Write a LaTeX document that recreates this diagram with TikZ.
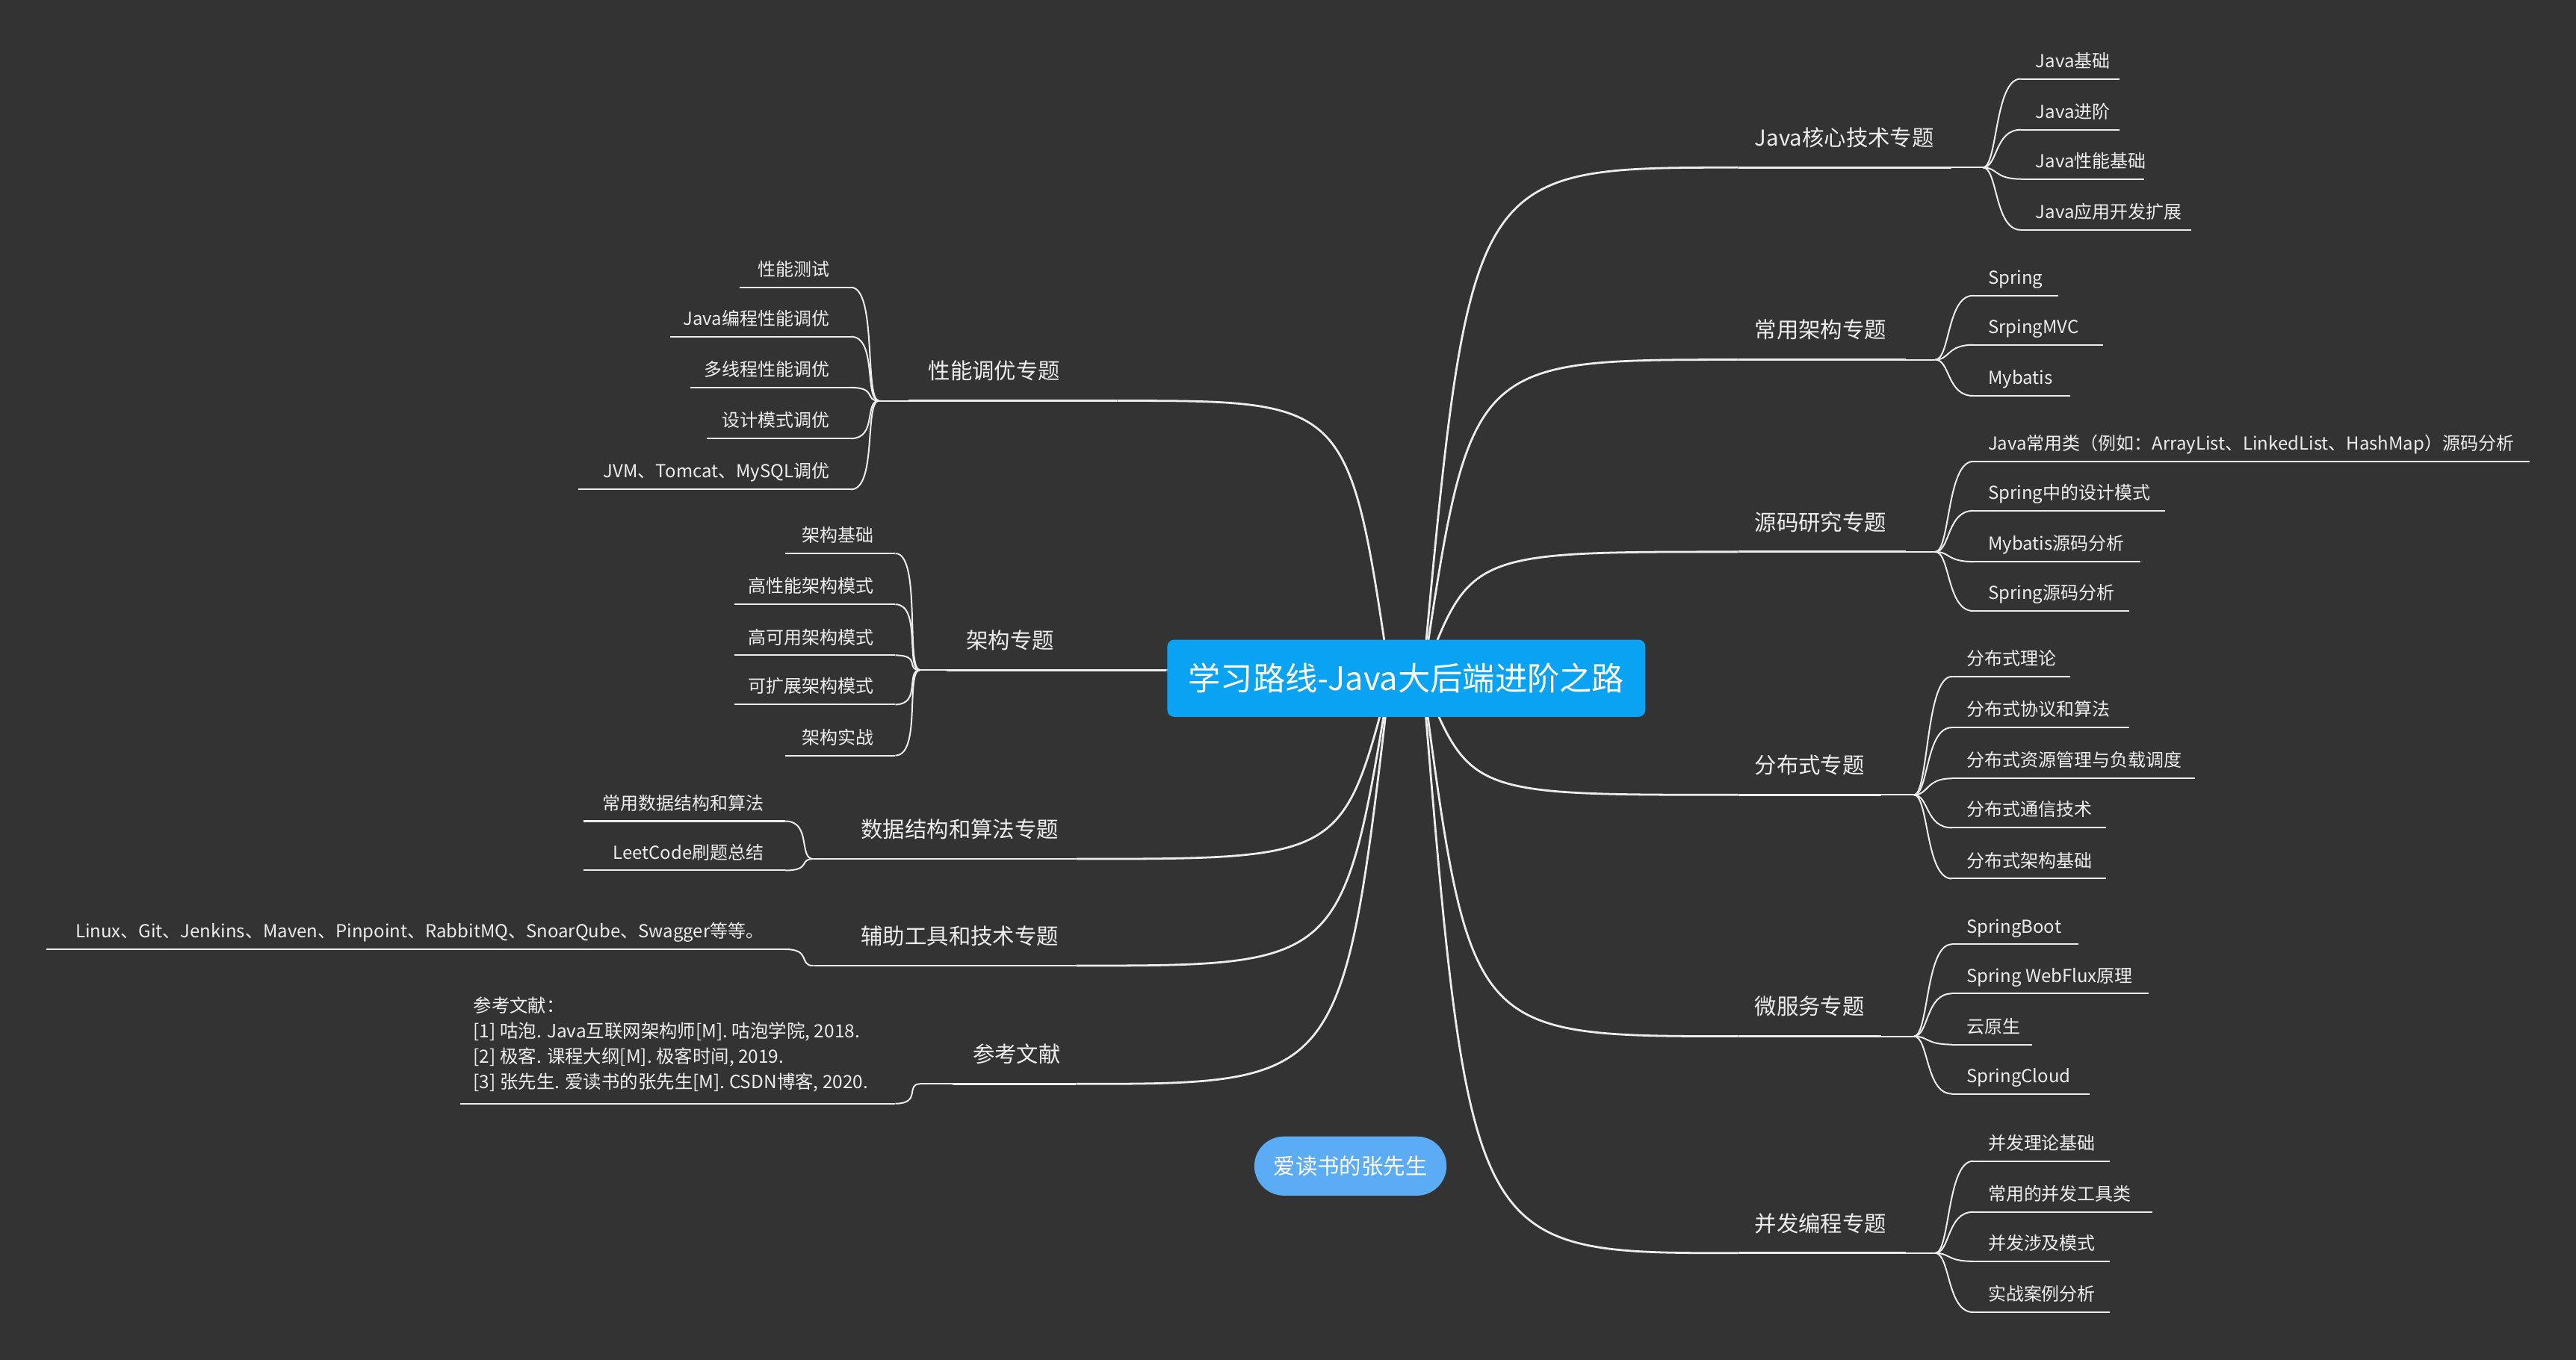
\documentclass[tikz,border=0pt]{standalone}
\usepackage{fontspec}
\setmainfont{Noto Sans CJK SC}
\usetikzlibrary{calc}
\definecolor{bg}{HTML}{333333}
\definecolor{ln}{HTML}{EDEDED}
\definecolor{cblue}{HTML}{0AA2F2}
\definecolor{pblue}{HTML}{5CABF5}
\tikzset{
 mainlab/.style={text=ln,inner sep=0pt,font=\fontsize{19}{22}\selectfont},
 childlab/.style={text=ln,inner sep=0pt,font=\fontsize{15.5}{19}\selectfont},
 br/.style={draw=ln,line width=1.8pt},
 ul/.style={draw=ln,line width=1.3pt},
}
\newcommand\rmain[5]{%
 \coordinate (#1s) at (1058,#3); \coordinate (#1e) at (#4,#3); \coordinate (#1j) at (#5,#3);
 \node[mainlab,anchor=base west] (#1) at (1068,#3-13) {#2};
 \draw[br] (#1s)--(#1e); \draw[ul] (#1e)--(#1j);
 \draw[br] (cr) .. controls ($(cr|-#1s)!0.15!(#1s)$) .. (#1s);}
\newcommand\rchild[6]{%
 \coordinate (#2s) at (#4,#3); \coordinate (#2e) at (#5,#3);
 \node[childlab,anchor=base west] (#2) at (#4+9,#3-7) {#6};
 \draw[ul] (#2s)--(#2e);
 \draw[ul] (#1j) .. controls +(9,0) and +(-16,0) .. (#2s);}
\newcommand\lmain[6]{% id text y xstart xend junction
 \coordinate (#1s) at (#4,#3); \coordinate (#1e) at (#5,#3); \coordinate (#1j) at (#6,#3);
 \node[mainlab,anchor=base west] (#1) at (#4+12,#3-13) {#2};
 \draw[br] (#1s)--(#1e); \draw[ul] (#1s)--(#1j);
 \draw[br] (cl) .. controls ($(cl|-#1e)!0.15!(#1e)$) .. (#1e);}
\newcommand\lchild[6]{%
 \coordinate (#2s) at (#4,#3); \coordinate (#2e) at (#5,#3);
 \node[childlab,anchor=base east] (#2) at (#5-13,#3-7) {#6};
 \draw[ul] (#2s)--(#2e);
 \draw[ul] (#1j) .. controls +(-9,0) and +(16,0) .. (#2e);}
\begin{document}
\begin{tikzpicture}[x=0.5mm,y=-0.5mm]
\fill[bg] (0,0) rectangle (1568,828);
\useasboundingbox (0,0) rectangle (1568,828);
\coordinate (cr) at (866,413);
\coordinate (cl) at (846,413);
% right
\rmain{a}{Java核心技术专题}{102}{1188}{1207}
\rchild{a}{a1}{48}{1230}{1290}{Java基础}
\rchild{a}{a2}{79}{1230}{1290}{Java进阶}
\rchild{a}{a3}{109}{1230}{1305}{Java性能基础}
\rchild{a}{a4}{140}{1230}{1334}{Java应用开发扩展}
\rmain{b}{常用架构专题}{219}{1160}{1178}
\rchild{b}{b1}{180}{1201}{1253}{Spring}
\rchild{b}{b2}{210}{1201}{1280}{SrpingMVC}
\rchild{b}{b3}{241}{1201}{1260}{Mybatis}
\rmain{c}{源码研究专题}{336}{1160}{1178}
\rchild{c}{c1}{281}{1201}{1540}{Java常用类（例如：ArrayList、LinkedList、HashMap）源码分析}
\rchild{c}{c2}{311}{1201}{1318}{Spring中的设计模式}
\rchild{c}{c3}{342}{1201}{1303}{Mybatis源码分析}
\rchild{c}{c4}{372}{1201}{1296}{Spring源码分析}
\rmain{d}{分布式专题}{484}{1145}{1165}
\rchild{d}{d1}{412}{1188}{1260}{分布式理论}
\rchild{d}{d2}{443}{1188}{1296}{分布式协议和算法}
\rchild{d}{d3}{474}{1188}{1336}{分布式资源管理与负载调度}
\rchild{d}{d4}{504}{1188}{1282}{分布式通信技术}
\rchild{d}{d5}{535}{1188}{1282}{分布式架构基础}
\rmain{e}{微服务专题}{631}{1145}{1165}
\rchild{e}{e1}{575}{1188}{1265}{SpringBoot}
\rchild{e}{e2}{605}{1188}{1308}{Spring WebFlux原理}
\rchild{e}{e3}{636}{1188}{1237}{云原生}
\rchild{e}{e4}{666}{1188}{1272}{SpringCloud}
\rmain{f}{并发编程专题}{763}{1160}{1178}
\rchild{f}{f1}{707}{1201}{1284}{并发理论基础}
\rchild{f}{f2}{738}{1201}{1310}{常用的并发工具类}
\rchild{f}{f3}{768}{1201}{1284}{并发涉及模式}
\rchild{f}{f4}{799}{1201}{1284}{实战案例分析}
% left
\lmain{g}{性能调优专题}{244}{553}{680}{535}
\lchild{g}{g1}{175}{450}{518}{性能测试}
\lchild{g}{g2}{205}{408}{518}{Java编程性能调优}
\lchild{g}{g3}{236}{420}{518}{多线程性能调优}
\lchild{g}{g4}{267}{430}{518}{设计模式调优}
\lchild{g}{g5}{298}{352}{518}{JVM、Tomcat、MySQL调优}
\lmain{h}{架构专题}{408}{576}{710}{560}
\lchild{h}{h1}{337}{478}{545}{架构基础}
\lchild{h}{h2}{368}{447}{545}{高性能架构模式}
\lchild{h}{h3}{399}{447}{545}{高可用架构模式}
\lchild{h}{h4}{429}{447}{545}{可扩展架构模式}
\lchild{h}{h5}{460}{478}{545}{架构实战}
\lmain{i}{数据结构和算法专题}{523}{512}{655}{495}
\lchild{i}{i1}{500}{355}{478}{常用数据结构和算法}
\lchild{i}{i2}{530}{355}{478}{LeetCode刷题总结}
\lmain{j}{辅助工具和技术专题}{588}{512}{655}{495}
\lchild{j}{j1}{578}{28}{478}{Linux、Git、Jenkins、Maven、Pinpoint、RabbitMQ、SnoarQube、Swagger等等。}
\lmain{k}{参考文献}{660}{580}{655}{560}
\coordinate (k1s) at (280,672); \coordinate (k1e) at (545,672);
\node[childlab,anchor=south west,align=left,font=\fontsize{15.8}{22}\selectfont] (k1) at (288,665)
 {参考文献：\\{}[1] 咕泡. Java互联网架构师[M]. 咕泡学院, 2018.\\{}[2] 极客. 课程大纲[M]. 极客时间, 2019.\\{}[3] 张先生. 爱读书的张先生[M]. CSDN博客, 2020.};
\draw[ul] (k1s)--(k1e);
\draw[ul] (kj) .. controls +(-9,0) and +(16,0) .. (k1e);
% center
\node[fill=cblue,rounded corners=6pt,minimum width=145.5mm,minimum height=23.5mm,text=white,font=\fontsize{28}{32}\selectfont] (center) at (856,413) {学习路线-Java大后端进阶之路};
\node[fill=pblue,rounded corners=9mm,minimum width=58.5mm,minimum height=18mm,text=white,font=\fontsize{19}{22}\selectfont] (pill) at (822,710) {爱读书的张先生};
\end{tikzpicture}
\end{document}
